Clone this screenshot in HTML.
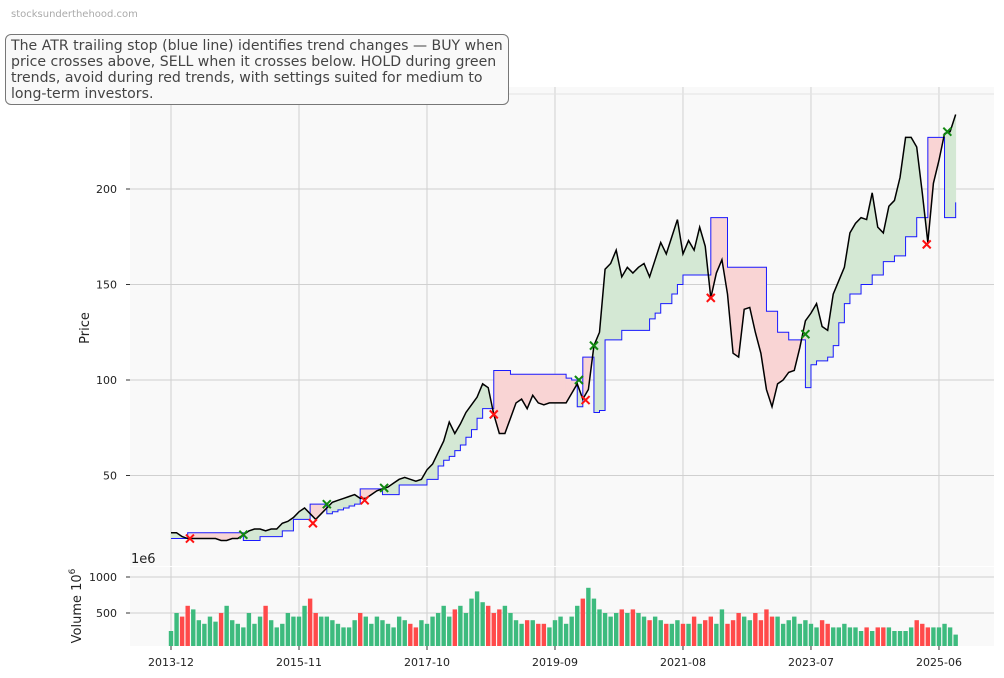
<!DOCTYPE html>
<html><head><meta charset="utf-8"><style>
body{margin:0;background:#fff;width:1004px;height:678px;overflow:hidden;font-family:"DejaVu Sans","Liberation Sans",sans-serif}
#wm{position:absolute;left:11px;top:9px;font-size:10px;color:#aaa}
#note{position:absolute;left:5px;top:34px;padding:3px 5px 2px 5px;border:1px solid #777;border-radius:6px;background:#f9f9f9;font-size:14.1px;line-height:16px;color:#444;white-space:nowrap}
svg{position:absolute;left:0;top:0}
</style></head><body>
<div id="wm">stocksunderthehood.com</div>
<svg id="chart" width="1004" height="678"></svg>
<div id="note">The ATR trailing stop (blue line) identifies trend changes — BUY when<br>price crosses above, SELL when it crosses below. HOLD during green<br>trends, avoid during red trends, with settings suited for medium to<br>long-term investors.</div>
<script>
const price=[20,20,18,17,17,17,17,17,17,16,16,17,17,19,21,22,22,21,22,22,25,26,28,31,33,30,27,30,33,36,37,38,39,40,38,38,40,42,43,44,46,48,49,48,47,48,53,56,62,68,78,72,77,83,87,91,98,96,82,72,72,80,88,90,85,92,88,87,88,88,88,88,93,98,90,95,118,125,158,161,168,154,159,156,159,161,154,163,172,166,175,184,166,173,168,180,170,143,156,163,145,114,112,137,138,125,114,95,86,98,100,104,105,117,131,135,140,128,126,145,152,159,177,182,185,184,198,180,177,191,194,206,227,227,222,198,172,203,215,229,230,239];
const stop=[17,17,17,20,20,20,20,20,20,20,20,20,20,16,16,16,18,18,18,18,21,21,27,27,27,35,35,35,30,31,32,33,34,35,43,43,43,43,40,40,40,45,45,45,45,45,48,48,55,58,60,63,66,70,74,80,85,85,105,105,105,103,103,103,103,103,103,103,103,103,103,101,100,86,112,112,83,84,121,121,121,126,126,126,126,126,132,135,140,140,145,150,155,155,155,155,155,185,185,185,159,159,159,159,159,159,159,136,136,125,125,121,121,121,96,108,110,110,112,118,130,140,145,145,150,150,155,155,162,162,165,165,175,175,185,185,227,227,227,185,185,193];
const volume=[250,500,450,600,550,400,350,450,380,500,600,400,350,300,500,350,450,600,400,300,350,500,450,450,600,700,500,450,450,400,350,300,300,400,500,450,350,450,400,350,300,450,400,350,300,400,350,450,500,600,450,550,600,500,700,800,650,600,500,550,600,500,400,350,400,400,350,350,300,400,450,350,450,600,700,850,700,550,500,450,500,550,500,550,500,450,400,450,400,350,350,400,350,350,450,350,400,450,350,550,350,400,500,450,400,500,400,550,450,450,350,400,450,350,400,350,300,400,350,300,300,350,300,300,250,300,250,300,300,300,250,250,250,300,400,350,300,300,300,350,300,200];
const buyIdx=[13,28,38.3,73.3,76,114,139.5];
const buyPx=[19,35,43.5,100,118,124,230];
const sellIdx=[3.4,25.5,34.8,58,74.5,97,135.8];
const sellPx=[17,25,37,82,89.5,143,171];
const priceTicks=[50,100,150,200];
const volTicks=[500,1000];
const xTickIdx=[0,23,46,69,92,115,138];
const xTickLbl=["2013-12","2015-11","2017-10","2019-09","2021-08","2023-07","2025-06"];

const L=130,R=994,PT=87,PB=566,VT=567,VB=646;
const X=i=>171+i*5.565;
const Y=p=>380-(p-100)*1.91;
const VY=v=>649-v*0.072;
const svg=document.getElementById('chart');
const NS='http://www.w3.org/2000/svg';
function mk(t,a,p){const e=document.createElementNS(NS,t);for(const k in a)e.setAttribute(k,a[k]);(p||svg).appendChild(e);return e;}

const pbg=mk('rect',{x:L,y:PT,width:R-L,height:PB-PT,fill:'#f9f9f9'});


const vbg=mk('rect',{x:L,y:VT,width:R-L,height:VB-VT,fill:'#f9f9f9'});



xTickIdx.forEach((t,k)=>{
  const x=X(t);
  mk('line',{x1:x,x2:x,y1:PT,y2:PB,stroke:'#d0d0d0','stroke-width':1});
  mk('line',{x1:x,x2:x,y1:VT,y2:VB,stroke:'#d0d0d0','stroke-width':1});
  mk('line',{x1:x,x2:x,y1:VB,y2:VB+4,stroke:'#333','stroke-width':1});
  const tx=mk('text',{x:x,y:666,'font-size':11,'text-anchor':'middle',fill:'#222'});
  tx.textContent=xTickLbl[k];
  
  
});
priceTicks.forEach(p=>{
  const y=Y(p);
  mk('line',{x1:L,x2:R,y1:y,y2:y,stroke:'#d0d0d0','stroke-width':1});
  mk('line',{x1:L-4,x2:L,y1:y,y2:y,stroke:'#333','stroke-width':1});
  const tx=mk('text',{x:117,y:y+4,'font-size':11,'text-anchor':'end',fill:'#222'});
  tx.textContent=p;
  
  
});
mk('line',{x1:L,x2:R,y1:94,y2:94,stroke:'#e4e4e4','stroke-width':1});
volTicks.forEach(v=>{
  const y=VY(v);
  mk('line',{x1:L,x2:R,y1:y,y2:y,stroke:'#d0d0d0','stroke-width':1});
  mk('line',{x1:L-4,x2:L,y1:y,y2:y,stroke:'#333','stroke-width':1});
  const tx=mk('text',{x:117,y:y+4,'font-size':11,'text-anchor':'end',fill:'#222'});
  tx.textContent=v;
  
  
});

for(let i=0;i<price.length-1;i++){
  const up=price[i]>=stop[i];
  const c=up?'#d4e8d4':'#f9d4d4';
  const poly=mk('polygon',{points:`${X(i)},${Y(price[i])} ${X(i+1)},${Y(price[i+1])} ${X(i+1)},${Y(stop[i])} ${X(i)},${Y(stop[i])}`,fill:c,stroke:c,'stroke-width':0.8});
  
  
}
let sp='';
for(let i=0;i<stop.length;i++){
  sp+=(i?`L${X(i)},${Y(stop[i-1])}L${X(i)},${Y(stop[i])}`:`M${X(i)},${Y(stop[i])}`);
}
const sl=mk('path',{d:sp,fill:'none',stroke:'#1a1aff','stroke-width':1});


const pl=mk('path',{d:price.map((p,i)=>(i?'L':'M')+X(i)+','+Y(p)).join(''),fill:'none',stroke:'#000','stroke-width':1.5});


buyIdx.forEach((b,k)=>{
  const x=X(b),y=Y(buyPx[k]);
  const g=mk('path',{d:`M${x-4},${y-4}L${x+4},${y+4}M${x-4},${y+4}L${x+4},${y-4}`,stroke:'#118811','stroke-width':2});
  
  
});
sellIdx.forEach((s,k)=>{
  const x=X(s),y=Y(sellPx[k]);
  const g=mk('path',{d:`M${x-4},${y-4}L${x+4},${y+4}M${x-4},${y+4}L${x+4},${y-4}`,stroke:'#ff1111','stroke-width':2});
  
  
});
volume.forEach((v,i)=>{
  const up=i===0||price[i]>=price[i-1];
  const y=VY(v);
  const r=mk('rect',{x:X(i)-2.2,y:y,width:4.4,height:VB-y,fill:up?'#3dbb7e':'#ff4a4a'});
  
  
});
const yl=mk('text',{x:0,y:0,'font-size':13,'text-anchor':'middle',fill:'#222',transform:'translate(89,328) rotate(-90)'});
yl.textContent='Price';


const vl=mk('text',{x:0,y:0,'font-size':13,'text-anchor':'middle',fill:'#222',transform:'translate(81,606) rotate(-90)'});
vl.innerHTML='Volume  10<tspan font-size="9" dy="-6">6</tspan>';


const oe=mk('text',{x:131,y:563,'font-size':13,fill:'#222'});
oe.textContent='1e6';


</script>
</body></html>
